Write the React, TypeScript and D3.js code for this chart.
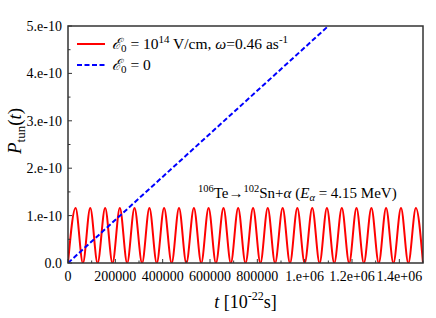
import React from "react";
import * as d3 from "d3";

// ---- data ----
const xDomain = [0, 1500000];
const yDomain = [0, 5e-10];

const xMajorTicks = [0, 200000, 400000, 600000, 800000, 1000000, 1200000, 1400000];
const xTickLabels = ["0", "200000", "400000", "600000", "800000", "1.e+06", "1.2e+06", "1.4e+06"];
const xMinorTicks = [100000, 300000, 500000, 700000, 900000, 1100000, 1300000, 1500000];

const yMajorTicks = [0, 1e-10, 2e-10, 3e-10, 4e-10, 5e-10];
const yTickLabels = ["0.0", "1.e-10", "2.e-10", "3.e-10", "4.e-10", "5.e-10"];
const yMinorTicks = [0.5e-10, 1.5e-10, 2.5e-10, 3.5e-10, 4.5e-10];

// red curve: oscillation extremes (troughs at 0, peaks at the read amplitude)
const redTroughTimes = [
  0, 63000, 125000, 188000, 250000, 313000, 375000, 438000, 500000, 563000, 625000, 688000,
  750000, 813000, 875000, 938000, 1000000, 1063000, 1125000, 1188000, 1250000, 1313000,
  1375000, 1438000, 1500000,
];
const redPeakTimes = [
  32000, 94000, 157000, 219000, 281000, 344000, 406000, 469000, 532000, 594000, 657000, 719000,
  782000, 844000, 907000, 969000, 1032000, 1094000, 1157000, 1219000, 1282000, 1344000,
  1407000, 1470000,
];
const redPeakValue = 1.16e-10;
const redTroughValue = 0;

// blue dashed line (E0 = 0): linear growth
const blueTimes = [0, 1100000];
const blueValues = [0, 5e-10];

const W = 436;
const H = 318;
const M = { left: 68, right: 13, top: 26, bottom: 55 };

export default function App() {
  const x = d3.scaleLinear().domain(xDomain).range([M.left, W - M.right]);
  const y = d3.scaleLinear().domain(yDomain).range([H - M.bottom, M.top]);

  const redPts: [number, number][] = [];
  redTroughTimes.forEach((t, i) => {
    redPts.push([t, redTroughValue]);
    if (i < redPeakTimes.length) redPts.push([redPeakTimes[i], redPeakValue]);
  });
  redPts.sort((a, b) => a[0] - b[0]);

  const redLine = d3
    .line<[number, number]>()
    .x((d) => x(d[0]))
    .y((d) => y(d[1]))
    .curve(d3.curveMonotoneX);

  const blueLine = d3
    .line<[number, number]>()
    .x((d) => x(d[0]))
    .y((d) => y(d[1]));

  const bluePts: [number, number][] = blueTimes.map((t, i) => [t, blueValues[i]]);

  const x0 = M.left;
  const x1 = W - M.right;
  const y0 = H - M.bottom;
  const y1 = M.top;
  const font = "'Liberation Serif', 'Times New Roman', serif";
  const axisColor = "#333";

  return (
    <svg
      width={W}
      height={H}
      style={{ position: "absolute", left: 0, top: 0, background: "#fff" }}
      fontFamily={font}
    >
      <defs>
        <clipPath id="plotclip">
          <rect x={x0} y={y1} width={x1 - x0} height={y0 - y1} />
        </clipPath>
      </defs>

      {/* data */}
      <g clipPath="url(#plotclip)">
        <path d={redLine(redPts) || ""} fill="none" stroke="#ff0000" strokeWidth={2} />
        <path
          d={blueLine(bluePts) || ""}
          fill="none"
          stroke="#0000ff"
          strokeWidth={2}
          strokeDasharray="5,2.5"
        />
      </g>

      {/* ticks */}
      {xMajorTicks.map((t, i) => (
        <g key={"xm" + i}>
          <line x1={x(t)} x2={x(t)} y1={y0} y2={y0 - 4} stroke={axisColor} strokeWidth={1} />
          <text x={x(t)} y={281} fontSize={14} textAnchor="middle" fill="#000">
            {xTickLabels[i]}
          </text>
        </g>
      ))}
      {xMinorTicks.map((t, i) => (
        <line key={"xn" + i} x1={x(t)} x2={x(t)} y1={y0} y2={y0 - 2.5} stroke={axisColor} strokeWidth={1} />
      ))}
      {yMajorTicks.map((v, i) => (
        <g key={"ym" + i}>
          <line x1={x0} x2={x0 + 4} y1={y(v)} y2={y(v)} stroke={axisColor} strokeWidth={1} />
          <text x={62} y={y(v)} dy="0.35em" fontSize={14} textAnchor="end" fill="#000">
            {yTickLabels[i]}
          </text>
        </g>
      ))}
      {yMinorTicks.map((v, i) => (
        <line key={"yn" + i} x1={x0} x2={x0 + 2.5} y1={y(v)} y2={y(v)} stroke={axisColor} strokeWidth={1} />
      ))}

      {/* frame */}
      <rect x={x0} y={y1} width={x1 - x0} height={y0 - y1} fill="none" stroke={axisColor} strokeWidth={1.5} />

      {/* axis titles */}
      <text x={(x0 + x1) / 2} y={308} fontSize={18} textAnchor="middle" fill="#000">
        <tspan fontStyle="italic">t</tspan>
        <tspan> [10</tspan>
        <tspan fontSize={12} dy={-8}>-22</tspan>
        <tspan dy={8}>s]</tspan>
      </text>
      <text
        transform={`translate(21,131) rotate(-90)`}
        fontSize={19}
        textAnchor="middle"
        fill="#000"
      >
        <tspan fontStyle="italic">P</tspan>
        <tspan fontSize={13} dy={4}>tun</tspan>
        <tspan dy={-4}>(</tspan>
        <tspan fontStyle="italic">t</tspan>
        <tspan>)</tspan>
      </text>

      {/* legend */}
      <line x1={77} x2={105} y1={44} y2={44} stroke="#ff0000" strokeWidth={2} />
      <text x={112} y={48.5} fontSize={15.5} fill="#000">
        <tspan fontStyle="italic">ℰ</tspan>
        <tspan fontSize={11} dy={3}>0</tspan>
        <tspan dy={-3}> = 10</tspan>
        <tspan fontSize={11} dy={-6}>14</tspan>
        <tspan dy={6}> V/cm, </tspan>
        <tspan fontStyle="italic">ω</tspan>
        <tspan>=0.46 as</tspan>
        <tspan fontSize={11} dy={-6}>-1</tspan>
      </text>
      <line
        x1={77}
        x2={105}
        y1={65}
        y2={65}
        stroke="#0000ff"
        strokeWidth={2}
        strokeDasharray="5,2.5"
      />
      <text x={112} y={69.5} fontSize={15.5} fill="#000">
        <tspan fontStyle="italic">ℰ</tspan>
        <tspan fontSize={11} dy={3}>0</tspan>
        <tspan dy={-3}> = 0</tspan>
      </text>

      {/* annotation */}
      <text x={198} y={198} fontSize={15} fill="#000">
        <tspan fontSize={10.5} dy={-6}>106</tspan>
        <tspan dy={6}>Te→</tspan>
        <tspan fontSize={10.5} dy={-6}>102</tspan>
        <tspan dy={6}>Sn+</tspan>
        <tspan fontStyle="italic">α</tspan>
        <tspan> (</tspan>
        <tspan fontStyle="italic">E</tspan>
        <tspan fontStyle="italic" fontSize={10.5} dy={3}>α</tspan>
        <tspan dy={-3}> = 4.15 MeV)</tspan>
      </text>
    </svg>
  );
}
